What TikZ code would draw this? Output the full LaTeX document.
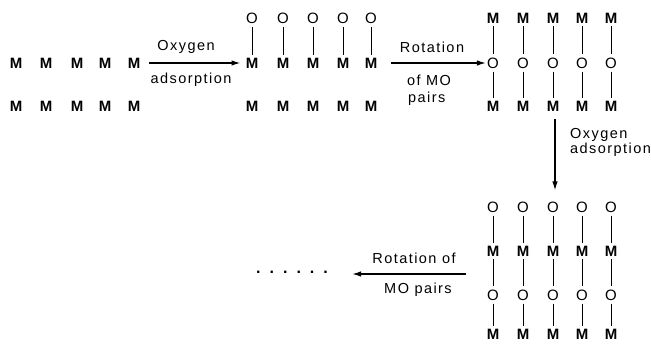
\documentclass[tikz,border=0pt]{standalone}
\usepackage{fontspec}
\setmainfont{Liberation Sans}
\newfontfamily\lblfont[LetterSpace=10]{Liberation Sans}
\usetikzlibrary{arrows.meta}
\begin{document}
\begin{tikzpicture}[x=1pt,y=-1pt,
  atomM/.style={inner sep=0pt,font=\fontsize{15}{15}\selectfont\bfseries},
  atomO/.style={inner sep=0pt,font=\fontsize{15}{15}\selectfont},
  lbl/.style={inner sep=0pt,font=\fontsize{14.5}{15}\lblfont},
  bond/.style={line width=0.8pt,shorten <=3pt,shorten >=3pt},
  react/.style={line width=1.4pt,-{Latex[length=9pt,width=5.5pt]}}]
\useasboundingbox (0,0) rectangle (651,343);
% group 1
\foreach \i/\x in {1/16,2/46,3/77,4/105,5/134}{
  \node[atomM] (a\i) at (\x,63) {M};
  \node[atomM] (ab\i) at (\x,106) {M};
}
% group 2
\foreach \i/\x in {1/252,2/283,3/313,4/343,5/371}{
  \node[atomO] (bo\i) at (\x,18) {O};
  \node[atomM] (bm\i) at (\x,63) {M};
  \node[atomM] (bb\i) at (\x,106) {M};
  \draw[bond] (bo\i) -- (bm\i);
}
% group 3
\foreach \i/\x in {1/493,2/523,3/553,4/582,5/611}{
  \node[atomM] (cm\i) at (\x,18) {M};
  \node[atomO] (co\i) at (\x,63) {O};
  \node[atomM] (cb\i) at (\x,106) {M};
  \draw[bond] (cm\i) -- (co\i);
  \draw[bond] (co\i) -- (cb\i);
}
% group 4
\foreach \i/\x in {1/493,2/523,3/553,4/582,5/611}{
  \node[atomO] (do\i) at (\x,207) {O};
  \node[atomM] (dm\i) at (\x,251) {M};
  \node[atomO] (dp\i) at (\x,295) {O};
  \node[atomM] (db\i) at (\x,334) {M};
  \draw[bond] (do\i) -- (dm\i);
  \draw[bond] (dm\i) -- (dp\i);
  \draw[bond] (dp\i) -- (db\i);
}
% arrow 1
\draw[react,shorten <=9pt,shorten >=5pt] (a5) -- (bm1);
\node[lbl] (l1a) at (186,47) {Oxygen};
\node[lbl] (l1b) at (191,80) {adsorption};
% arrow 2
\draw[react,shorten <=14pt,shorten >=1pt] (bm5) -- (co1);
\node[lbl] (l2a) at (432,47) {Rotation};
\node[lbl,anchor=west] (l2b) at (407,80) {of MO};
\node[lbl,anchor=west] (l2c) at (408,99) {pairs};
% arrow 3
\draw[react,shorten <=8pt,shorten >=11pt] ([xshift=2pt]cb3.south) -- ([xshift=2pt]do3.north);
\node[lbl,anchor=west] (l3a) at (570,135) {Oxygen};
\node[lbl,anchor=west] (l3b) at (570,150) {adsorption};
% arrow 4
\coordinate (r4) at (466,274);
\node[inner sep=0pt,font=\fontsize{16}{16}\selectfont\bfseries] (dots) at (292,272) {.\hspace{9pt}.\hspace{9pt}.\hspace{9pt}.\hspace{9pt}.\hspace{9pt}.};
\draw[react,shorten >=24pt] (r4) -- (dots.east |- r4);
\node[lbl] (l4a) at (414,258) {Rotation of};
\node[lbl] (l4b) at (418,290) {MO pairs};
\end{tikzpicture}
\end{document}
